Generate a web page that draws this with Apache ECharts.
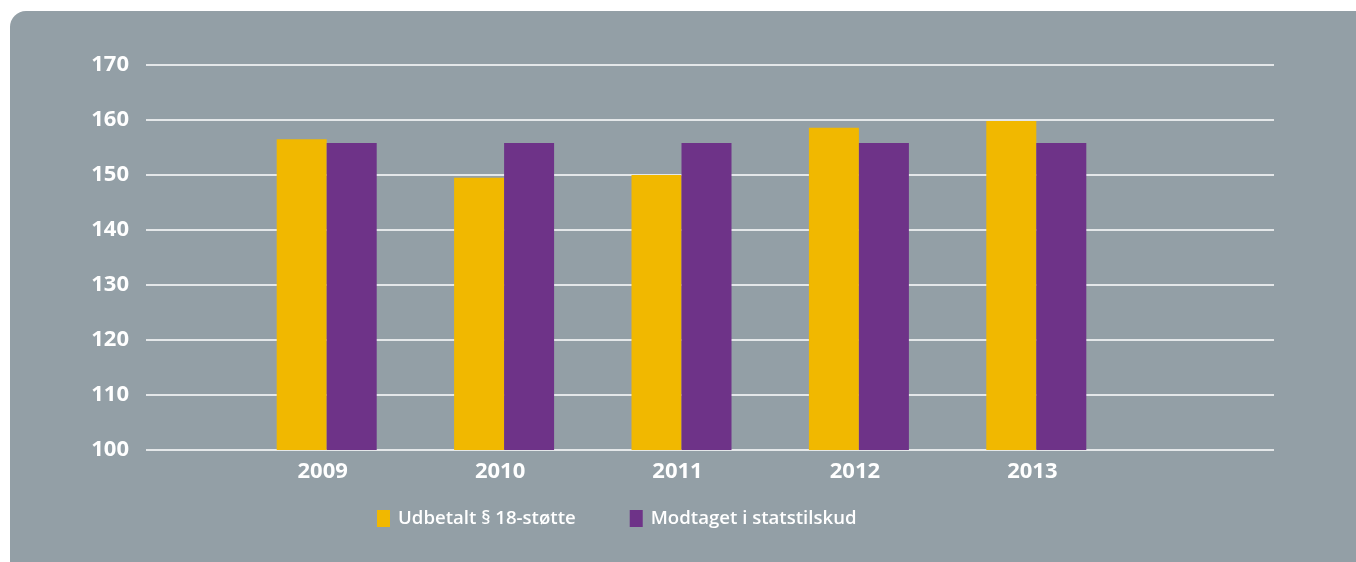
<!DOCTYPE html>
<html>
<head>
<meta charset="utf-8">
<script src="https://cdn.jsdelivr.net/npm/echarts@6/dist/echarts.min.js"></script>
<style>
 html, body { margin: 0; padding: 0; background: #ffffff; }
 #panel {
  position: absolute; left: 10px; top: 11px; right: 0; bottom: 0;
  background: #939fa6; border-top-left-radius: 16px;
 }
 #chart { position: absolute; left: 0; top: 0; width: 1356px; height: 562px; }
</style>
</head>
<body>
<div id="panel"></div>
<div id="chart"></div>
<script>
const years = ['2009', '2010', '2011', '2012', '2013']
const udbetalt = [156.5, 149.5, 150.0, 158.6, 159.8]
const modtaget = [155.8, 155.8, 155.8, 155.8, 155.8]
const yMin = 100
const yMax = 170
const yStep = 10

const font = '"Open Sans", "Noto Sans", sans-serif'
const chart = echarts.init(document.getElementById('chart'))

const option = {
 backgroundColor: 'transparent',
 textStyle: { fontFamily: font },
 grid: [
  // gridlines and y labels
  { left: 146, right: 82, top: 65, bottom: 112 },
  // bars
  { left: 238, right: 231, top: 65, bottom: 112 }
 ],
 xAxis: [
  { gridIndex: 0, type: 'value', show: false, min: 0, max: 1 },
  {
   gridIndex: 1,
   type: 'category',
   data: years,
   axisLine: { show: false },
   axisTick: { show: false },
   axisLabel: {
    color: '#ffffff', fontFamily: font, fontWeight: 'bold', fontSize: 22,
    margin: 11, padding: [0, 8, 0, 0]
   }
  }
 ],
 yAxis: [
  {
   gridIndex: 0,
   type: 'value',
   min: yMin, max: yMax, interval: yStep,
   axisLine: { show: false },
   axisTick: { show: false },
   axisLabel: { color: '#ffffff', fontFamily: font, fontWeight: 'bold', fontSize: 22, margin: 17 },
   splitLine: { lineStyle: { color: '#ffffff', width: 1.5 } }
  },
  { gridIndex: 1, type: 'value', min: yMin, max: yMax, show: false, splitLine: { show: false } }
 ],
 legend: {
  left: 377,
  top: 509,
  padding: 0,
  itemWidth: 13,
  itemHeight: 17,
  itemGap: 54,
  icon: 'rect',
  textStyle: { color: '#ffffff', fontFamily: font, fontWeight: 600, fontSize: 18.6, padding: [0, 0, 0, 3] },
  data: ['Udbetalt § 18-støtte', 'Modtaget i statstilskud']
 },
 series: [
  {
   name: 'Udbetalt § 18-støtte',
   type: 'bar',
   xAxisIndex: 1, yAxisIndex: 1,
   data: udbetalt,
   barWidth: 50,
   barGap: '0%',
   itemStyle: { color: '#f1b800' }
  },
  {
   name: 'Modtaget i statstilskud',
   type: 'bar',
   xAxisIndex: 1, yAxisIndex: 1,
   data: modtaget,
   barWidth: 50,
   barGap: '0%',
   itemStyle: { color: '#6e3388' }
  }
 ]
}
chart.setOption(option)
</script>
</body>
</html>
